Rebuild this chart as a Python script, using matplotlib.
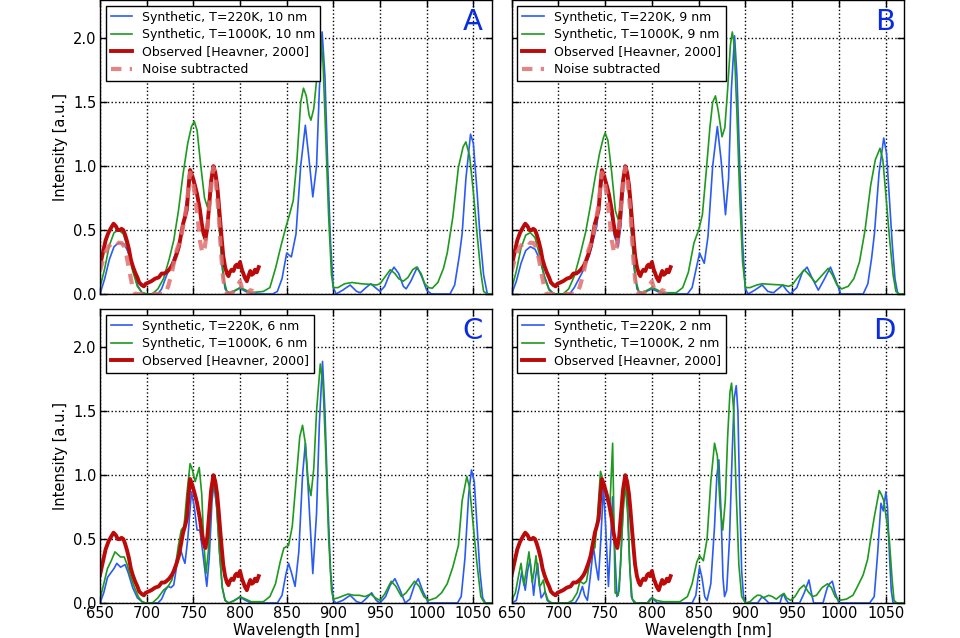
import numpy as np
import matplotlib
matplotlib.use('Agg')
import matplotlib.pyplot as plt

# observed spectrum (same in every panel)
obs_wl = [650, 653, 656, 659, 662, 664.5, 667, 669, 671.5, 673, 675, 677, 679, 681, 683, 685,
          687.5, 690, 692, 694.7, 697, 699, 702, 705, 709, 713, 716, 719, 721, 724, 727, 729,
          732, 734.5, 737, 739, 741, 743, 745, 746.5, 748.5, 750.5, 752, 754, 757, 759, 761,
          763, 765, 767, 769, 771.5, 773.5, 775.5, 777, 779, 780.5, 782, 784, 786, 787.6, 789,
          791, 793, 795, 796.6, 798, 800, 802, 803.6, 805, 807.3, 809, 811, 812.5, 814.5, 816,
          818, 820]
obs_I = [0.22, 0.32, 0.42, 0.48, 0.52, 0.55, 0.53, 0.50, 0.50, 0.51, 0.50, 0.46, 0.41, 0.35,
         0.27, 0.22, 0.17, 0.13, 0.09, 0.07, 0.06, 0.08, 0.09, 0.10, 0.12, 0.13, 0.16, 0.16,
         0.17, 0.19, 0.22, 0.25, 0.31, 0.37, 0.47, 0.55, 0.60, 0.66, 0.85, 0.97, 0.93, 0.88,
         0.84, 0.78, 0.66, 0.55, 0.47, 0.43, 0.52, 0.70, 0.88, 1.0, 0.95, 0.85, 0.73, 0.55,
         0.42, 0.30, 0.21, 0.16, 0.14, 0.17, 0.19, 0.18, 0.22, 0.23, 0.21, 0.25, 0.19, 0.16,
         0.13, 0.10, 0.14, 0.18, 0.15, 0.16, 0.19, 0.17, 0.21]

sub_wl = [650, 653, 656, 659, 663, 666, 669, 673, 676, 678.6, 681, 683, 685, 687.5, 720, 723,
          726.8, 729, 732, 735, 737.6, 740, 743, 745, 746.5, 749, 752, 754.5, 757, 759.7, 762,
          764.4, 766, 768, 770, 771.5, 774, 777, 779, 780.5, 782, 784, 787, 792, 796, 800, 802,
          804, 808, 811, 815, 818, 820]
sub_I = [0.18, 0.26, 0.33, 0.37, 0.40, 0.42, 0.40, 0.40, 0.37, 0.29, 0.20, 0.12, 0.05, 0.0,
         0.0, 0.06, 0.16, 0.24, 0.34, 0.40, 0.47, 0.57, 0.70, 0.85, 0.95, 0.90, 0.76, 0.60,
         0.42, 0.32, 0.36, 0.47, 0.60, 0.75, 0.92, 0.99, 0.88, 0.64, 0.40, 0.24, 0.12, 0.02,
         0.0, 0.01, 0.05, 0.10, 0.05, 0.0, 0.0, 0.03, 0.02, 0.05, 0.03]

# panel A, 10 nm
a_blue_wl = [650, 655, 660, 665, 670, 676, 680, 685, 690, 695, 700, 712, 716, 721, 728, 736, 741,
             747, 751, 756, 760, 763, 766, 769, 772, 775, 778, 781, 784, 788, 793, 800, 806, 812,
             835, 840, 845, 850, 855, 860, 865, 870, 874, 878, 882, 885, 888, 891, 894, 897, 900,
             903, 910, 918, 925, 929, 935, 940, 945, 950, 955, 960, 965, 970, 975, 978, 983, 990,
             995, 1000, 1005, 1025, 1030, 1035, 1038, 1042, 1047, 1050, 1054, 1057, 1061, 1065,
             1070]
a_blue_I = [0.0, 0.12, 0.27, 0.37, 0.40, 0.39, 0.33, 0.20, 0.07, 0.01, 0.0, 0.0, 0.04, 0.14, 0.26,
            0.42, 0.65, 0.94, 0.90, 0.72, 0.52, 0.47, 0.62, 0.88, 0.97, 0.85, 0.50, 0.20, 0.04,
            0.0, 0.02, 0.045, 0.02, 0.0, 0.0, 0.02, 0.12, 0.32, 0.29, 0.47, 1.0, 1.32, 1.05, 0.76,
            1.0, 1.6, 2.05, 1.7, 1.0, 0.4, 0.05, 0.0, 0.03, 0.07, 0.02, 0.01, 0.05, 0.08, 0.05,
            0.02, 0.06, 0.15, 0.21, 0.16, 0.06, 0.04, 0.10, 0.21, 0.13, 0.03, 0.0, 0.0, 0.07, 0.30,
            0.47, 0.90, 1.25, 1.18, 0.80, 0.47, 0.15, 0.0, 0.0]
a_green_wl = [650, 655, 660, 665, 670, 675, 680, 685, 690, 695, 700, 706, 712, 718, 724, 729, 734,
              739, 744, 748, 751, 754, 758, 762, 765, 768, 771, 774, 777, 780, 783, 786, 790, 795,
              800, 805, 812, 825, 832, 838, 844, 849, 853, 857, 861, 865, 868, 871, 874, 876, 879,
              882, 884, 886, 889, 892, 895, 898, 900, 905, 912, 920, 930, 940, 946, 950, 955, 961,
              966, 970, 975, 980, 985, 989, 994, 998, 1002, 1006, 1012, 1018, 1022, 1028, 1034,
              1039, 1042, 1046, 1050, 1054, 1058, 1061, 1065, 1070]
a_green_I = [0.05, 0.20, 0.38, 0.48, 0.50, 0.47, 0.35, 0.18, 0.06, 0.01, 0.0, 0.0, 0.04, 0.12,
             0.27, 0.42, 0.65, 0.94, 1.18, 1.31, 1.35, 1.28, 1.0, 0.75, 0.68, 0.80, 0.98, 0.90,
             0.60, 0.30, 0.10, 0.02, 0.01, 0.03, 0.05, 0.035, 0.01, 0.02, 0.05, 0.20, 0.38, 0.52,
             0.62, 0.73, 1.05, 1.50, 1.61, 1.55, 1.40, 1.36, 1.45, 1.67, 1.95, 2.05, 1.80, 1.20,
             0.60, 0.15, 0.05, 0.05, 0.08, 0.09, 0.08, 0.075, 0.07, 0.08, 0.13, 0.19, 0.16, 0.12,
             0.10, 0.13, 0.19, 0.21, 0.16, 0.08, 0.05, 0.045, 0.09, 0.20, 0.32, 0.60, 0.99, 1.15,
             1.19, 1.08, 0.80, 0.47, 0.17, 0.02, 0.0, 0.0]

# panel B, 9 nm
b_blue_wl = [650, 655, 660, 665, 670, 675, 680, 685, 690, 695, 712, 717, 722, 727, 733, 741, 745,
             748, 752, 756, 760, 764, 767, 770, 772, 775, 778, 781, 784, 788, 794, 800, 806, 812,
             838, 843, 848, 851, 856, 860, 865, 870, 874, 878.7, 882, 885, 888.4, 891, 894, 897,
             900, 903, 910, 918, 924, 930, 935, 940, 944, 948, 955, 961, 966, 971, 978, 984, 991,
             996, 1002, 1026, 1031, 1035, 1038, 1043, 1048, 1051, 1054, 1057, 1060, 1063, 1070]
b_blue_I = [0.0, 0.10, 0.24, 0.34, 0.37, 0.35, 0.27, 0.14, 0.04, 0.0, 0.0, 0.05, 0.12, 0.19, 0.30,
            0.53, 0.80, 0.94, 0.85, 0.65, 0.45, 0.37, 0.55, 0.90, 0.97, 0.85, 0.50, 0.20, 0.04,
            0.0, 0.02, 0.04, 0.02, 0.0, 0.0, 0.05, 0.22, 0.32, 0.24, 0.45, 1.0, 1.31, 1.05, 0.62,
            0.90, 1.60, 2.02, 1.70, 1.0, 0.40, 0.04, 0.0, 0.03, 0.07, 0.02, 0.01, 0.04, 0.07, 0.03,
            0.0, 0.05, 0.17, 0.21, 0.13, 0.03, 0.11, 0.21, 0.12, 0.0, 0.0, 0.08, 0.28, 0.47, 0.95,
            1.22, 1.10, 0.75, 0.40, 0.12, 0.0, 0.0]
b_green_wl = [650, 655, 660, 665, 670, 675, 680, 685, 690, 695, 705, 711, 717, 723, 729, 734, 739,
              744, 748, 750, 753, 757, 761, 764, 767, 771, 774, 777, 780, 783, 786, 790, 795, 800,
              805, 812, 826, 833, 839, 845, 850, 854, 858, 862, 865, 868, 871, 875, 878, 881, 884,
              886, 888, 891, 894, 897, 900, 905, 912, 918, 928, 940, 946, 950, 955, 963, 968, 975,
              980, 988.5, 993, 998, 1003, 1010, 1016, 1022, 1028, 1034, 1039, 1044, 1047, 1050,
              1054, 1058, 1061, 1065, 1070]
b_green_I = [0.04, 0.18, 0.36, 0.46, 0.48, 0.44, 0.30, 0.13, 0.03, 0.0, 0.0, 0.04, 0.14, 0.30,
             0.48, 0.68, 0.90, 1.10, 1.22, 1.26, 1.20, 0.95, 0.65, 0.58, 0.70, 0.98, 0.90, 0.60,
             0.30, 0.10, 0.02, 0.01, 0.03, 0.05, 0.035, 0.01, 0.01, 0.05, 0.17, 0.40, 0.50, 0.62,
             0.95, 1.30, 1.50, 1.55, 1.43, 1.23, 1.30, 1.60, 1.95, 2.05, 1.95, 1.40, 0.75, 0.25,
             0.05, 0.05, 0.07, 0.08, 0.075, 0.07, 0.06, 0.07, 0.12, 0.19, 0.15, 0.09, 0.13, 0.20,
             0.15, 0.07, 0.04, 0.06, 0.12, 0.25, 0.50, 0.85, 1.05, 1.14, 1.05, 0.80, 0.45, 0.15,
             0.02, 0.0, 0.0]

# panel C, 6 nm
c_blue_wl = [650, 654, 658, 661, 665, 668, 672, 676.8, 680, 685, 690, 695, 698, 712, 716, 720, 723,
             726, 729, 733, 736, 739, 741, 744, 748, 751, 754, 757, 760, 764.4, 767, 770, 772, 775,
             778, 781, 784, 788, 794, 800, 806, 812, 840, 845, 849, 852, 855, 859, 863, 867, 870,
             873, 878, 882, 885, 888.4, 891, 894, 897, 900, 903, 910, 918, 925, 930, 936, 941, 946,
             950, 956, 961, 966, 971, 977, 982, 987, 991, 996, 1002, 1033, 1037, 1041, 1045, 1048,
             1051, 1054, 1057, 1060, 1063, 1070]
c_blue_I = [0.0, 0.08, 0.20, 0.23, 0.27, 0.31, 0.28, 0.30, 0.24, 0.12, 0.04, 0.01, 0.0, 0.0, 0.03,
            0.10, 0.13, 0.12, 0.14, 0.33, 0.43, 0.35, 0.31, 0.50, 0.87, 0.75, 0.57, 0.57, 0.40,
            0.13, 0.35, 0.80, 0.93, 0.75, 0.40, 0.12, 0.02, 0.0, 0.02, 0.045, 0.02, 0.0, 0.0,
            0.06, 0.22, 0.31, 0.24, 0.13, 0.40, 1.0, 1.25, 0.90, 0.23, 0.70, 1.40, 1.89, 1.50,
            0.80, 0.25, 0.02, 0.0, 0.02, 0.06, 0.01, 0.0, 0.04, 0.08, 0.02, 0.0, 0.05, 0.14, 0.19,
            0.11, 0.0, 0.03, 0.14, 0.19, 0.09, 0.0, 0.0, 0.05, 0.35, 0.85, 1.04, 0.95, 0.60, 0.25,
            0.04, 0.0, 0.0]
c_green_wl = [650, 654, 658, 662, 666, 669, 672, 676, 679, 683, 687, 691, 695, 699, 706, 712, 718,
              723, 727, 731, 734, 737, 740, 743, 746.5, 749, 752, 756.3, 759, 761, 763.5, 766, 769,
              772, 775, 778, 781, 784, 788, 794, 800, 806, 812, 825, 832, 838, 843, 847, 852, 856,
              860, 864, 867, 870, 873, 876, 879, 882, 886, 889, 892, 895, 898, 900, 905, 912, 916,
              922, 928, 934, 940, 945, 950, 955, 962, 967, 973, 978, 987, 992, 997, 1002, 1010,
              1016, 1022, 1028, 1034, 1038, 1043, 1046, 1050, 1054, 1058, 1062, 1070]
c_green_I = [0.03, 0.15, 0.27, 0.33, 0.40, 0.38, 0.36, 0.36, 0.30, 0.20, 0.12, 0.05, 0.01, 0.0, 0.0,
             0.04, 0.10, 0.13, 0.18, 0.30, 0.45, 0.57, 0.60, 0.85, 1.09, 1.04, 0.95, 1.06, 0.85,
             0.50, 0.23, 0.40, 0.80, 0.97, 0.75, 0.40, 0.12, 0.02, 0.0, 0.02, 0.05, 0.03, 0.01,
             0.01, 0.05, 0.15, 0.32, 0.43, 0.45, 0.60, 0.95, 1.30, 1.39, 1.25, 0.95, 0.84, 1.05,
             1.50, 1.87, 1.70, 1.15, 0.50, 0.10, 0.03, 0.04, 0.06, 0.07, 0.06, 0.06, 0.05, 0.07,
             0.04, 0.02, 0.07, 0.17, 0.13, 0.05, 0.08, 0.17, 0.13, 0.05, 0.02, 0.04, 0.08, 0.15,
             0.28, 0.45, 0.80, 0.99, 0.90, 0.60, 0.30, 0.05, 0.0, 0.0]

# panel D, 2 nm
d_blue_wl = [650, 655, 658, 660.7, 663, 664.5, 667, 669.6, 672, 673.5, 675.5, 677.8, 680, 681.5,
             683.5, 685.7, 688, 691, 718, 722, 725.7, 728, 731, 734, 737.5, 740, 742.8, 745, 748.2,
             750.5, 753.5, 756, 757.9, 760, 762.6, 765, 767, 770, 772, 774, 776, 778, 781, 795,
             798, 800, 803, 806, 843, 847, 849, 851, 853.5, 856.5, 859, 863, 867, 869.5, 871.6,
             874, 876, 877.7, 880, 883, 886, 888, 890.2, 892, 894, 896, 898, 900, 913, 916, 918,
             921, 925, 937, 939, 941, 943, 946, 958, 963, 966, 968, 970, 973, 983, 987.6, 990,
             993, 996, 1000, 1033, 1037.8, 1041.6, 1045, 1047.5, 1050.3, 1052, 1054, 1056, 1058,
             1070]
d_blue_I = [0.0, 0.02, 0.12, 0.24, 0.16, 0.10, 0.25, 0.34, 0.18, 0.06, 0.20, 0.31, 0.12, 0.04,
            0.06, 0.09, 0.02, 0.0, 0.0, 0.05, 0.13, 0.06, 0.02, 0.20, 0.44, 0.30, 0.18, 0.45, 0.91,
            0.60, 0.13, 0.50, 0.83, 0.45, 0.05, 0.10, 0.40, 0.85, 0.95, 0.80, 0.35, 0.05, 0.0,
            0.0, 0.03, 0.04, 0.02, 0.0, 0.0, 0.06, 0.18, 0.28, 0.20, 0.05, 0.02, 0.15, 0.60, 1.0,
            1.12, 0.70, 0.20, 0.05, 0.10, 0.50, 1.20, 1.60, 1.70, 1.50, 0.80, 0.25, 0.05, 0.0,
            0.0, 0.03, 0.05, 0.03, 0.0, 0.0, 0.05, 0.07, 0.03, 0.0, 0.0, 0.08, 0.14, 0.18, 0.10,
            0.0, 0.0, 0.12, 0.15, 0.17, 0.08, 0.0, 0.0, 0.05, 0.40, 0.78, 0.72, 0.87, 0.75, 0.39,
            0.10, 0.0, 0.0]
d_green_wl = [650, 654, 657, 660, 663, 665.5, 668.5, 672, 674, 676, 679.7, 682, 683.9, 686, 689,
              693, 710, 715, 720, 723, 727, 730, 733, 735.8, 739, 742, 745, 748, 750.4, 752, 755,
              756.5, 758, 759.5, 760.6, 764, 766.5, 769, 771.5, 774, 776.5, 779, 783, 796, 800,
              805, 812, 830, 838, 843, 848, 851, 855, 859, 863, 867, 870, 873, 875.8, 878.5, 881,
              883.5, 885.2, 887.5, 890, 893, 896, 900, 905, 909, 912.7, 916, 919, 922, 925, 928.8,
              933, 938, 941.3, 944, 948.5, 953, 958, 962.7, 967, 971.6, 976, 982, 987.8, 992, 996,
              1000, 1008, 1015, 1020, 1026, 1030.7, 1034, 1037.8, 1043.2, 1046, 1048, 1051, 1054,
              1057, 1059, 1062, 1070]
d_green_I = [0.02, 0.08, 0.20, 0.31, 0.14, 0.25, 0.40, 0.16, 0.25, 0.37, 0.13, 0.15, 0.18, 0.08,
             0.02, 0.0, 0.0, 0.02, 0.08, 0.17, 0.15, 0.17, 0.30, 0.45, 0.43, 0.70, 1.03, 0.95,
             0.87, 0.80, 0.75, 1.0, 1.25, 0.60, 0.08, 0.06, 0.30, 0.70, 0.93, 0.70, 0.25, 0.03,
             0.0, 0.0, 0.04, 0.02, 0.01, 0.01, 0.05, 0.15, 0.32, 0.37, 0.33, 0.50, 0.95, 1.25,
             1.15, 0.75, 0.57, 0.80, 1.30, 1.65, 1.72, 1.50, 0.90, 0.30, 0.05, 0.0, 0.01, 0.04,
             0.06, 0.06, 0.04, 0.05, 0.06, 0.05, 0.03, 0.06, 0.075, 0.04, 0.02, 0.05, 0.11, 0.14,
             0.09, 0.05, 0.06, 0.12, 0.15, 0.12, 0.05, 0.02, 0.03, 0.06, 0.13, 0.22, 0.34, 0.50,
             0.67, 0.88, 0.84, 0.80, 0.65, 0.49, 0.18, 0.02, 0.0, 0.0]

panels = [
    ('A', '10 nm', a_blue_wl, a_blue_I, a_green_wl, a_green_I, True),
    ('B', '9 nm', b_blue_wl, b_blue_I, b_green_wl, b_green_I, True),
    ('C', '6 nm', c_blue_wl, c_blue_I, c_green_wl, c_green_I, False),
    ('D', '2 nm', d_blue_wl, d_blue_I, d_green_wl, d_green_I, False),
]

c_blue = '#2a5cf5'
c_green = '#1e9a1e'
c_red = '#bb0a0a'
c_sub = '#e07070'

fig = plt.figure(figsize=(9.6, 6.38), dpi=100)
rects = [[0.1042, 0.5392, 0.4083, 0.4608],
         [0.5330, 0.5392, 0.4090, 0.4608],
         [0.1042, 0.0549, 0.4083, 0.4608],
         [0.5330, 0.0549, 0.4090, 0.4608]]

for i, (letter, res, bwl, bI, gwl, gI, noise) in enumerate(panels):
    ax = fig.add_axes(rects[i])
    ax.plot(bwl, bI, color=c_blue, lw=1.2, label='Synthetic, T=220K, ' + res)
    ax.plot(gwl, gI, color=c_green, lw=1.2, label='Synthetic, T=1000K, ' + res)
    ax.plot(obs_wl, obs_I, color=c_red, lw=2.8, label='Observed [Heavner, 2000]')
    if noise:
        ax.plot(sub_wl, sub_I, color=c_sub, lw=3, ls='--', dashes=(2.5, 2), alpha=0.85,
                label='Noise subtracted')
    ax.set_xlim(650, 1070)
    ax.set_ylim(0, 2.3)
    ax.set_xticks(np.arange(650, 1051, 50))
    ax.set_yticks([0.0, 0.5, 1.0, 1.5, 2.0])
    ax.grid(True, color='k', ls=':', lw=1)
    ax.tick_params(direction='in', top=True, right=True, length=5, width=1,
                   labelsize=10.5, pad=2.5)
    for s in ax.spines.values():
        s.set_linewidth(1)
    if i < 2:
        ax.tick_params(labelbottom=False)
    else:
        ax.set_xlabel('Wavelength [nm]', fontsize=10.5, labelpad=1)
    if i % 2 == 1:
        ax.tick_params(labelleft=False)
    else:
        ax.set_ylabel('Intensity [a.u.]', fontsize=10.5)
    leg = ax.legend(loc='upper left', fontsize=9.0, fancybox=False, edgecolor='k',
                    framealpha=1, handlelength=1.7, labelspacing=0.36, borderaxespad=0.45,
                    borderpad=0.4)
    leg.get_frame().set_linewidth(1)
    ax.text(0.95, 0.925, letter, transform=ax.transAxes, ha='center', va='center',
            fontsize=21, color='#0a2ce0')

fig.savefig('out.png', dpi=100)
